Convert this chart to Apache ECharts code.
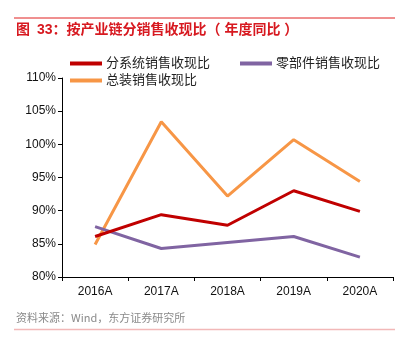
<!DOCTYPE html>
<html>
<head>
<meta charset="utf-8">
<script src="https://cdn.jsdelivr.net/npm/echarts@6/dist/echarts.min.js"></script>
<style>
  html, body { margin: 0; padding: 0; background: #fff; }
  #chart { width: 410px; height: 341px; }
</style>
</head>
<body>
<div id="chart"></div>
<script>
// Yearly cash-collection ratio by segment, in percent
const categories = ['2016A', '2017A', '2018A', '2019A', '2020A'];
const subsystemRatio = [86.1, 89.4, 87.8, 93.0, 89.9];
const componentRatio = [87.6, 84.3, 85.2, 86.1, 83.0];
const assemblyRatio = [84.9, 103.4, 92.2, 100.7, 94.4];
const yTicks = { min: 80, max: 110, interval: 5 };

const seriesNames = ['分系统销售收现比', '零部件销售收现比', '总装销售收现比'];
const colors = ['#C00000', '#8064A2', '#F79646'];

const FONT = '"Liberation Sans", "Noto Sans CJK SC", sans-serif';
const TITLE_FONT = 'bold 14px "Liberation Sans", "Noto Sans CJK SC", sans-serif';

const chart = echarts.init(document.getElementById('chart'), null, { renderer: 'canvas' });

const legendBase = {
  orient: 'horizontal',
  left: 70,
  itemWidth: 32,
  itemHeight: 4,
  itemGap: 30,
  icon: 'rect',
  textStyle: { fontFamily: FONT, fontSize: 13, color: '#222', padding: [0, 0, 0, -1] },
  padding: 0
};

chart.setOption({
  animation: false,
  color: colors,
  textStyle: { fontFamily: FONT },
  grid: { left: 62, right: 17, top: 78, bottom: 64 },
  legend: [
    Object.assign({}, legendBase, { top: 57, data: [seriesNames[0], seriesNames[1]] }),
    Object.assign({}, legendBase, { top: 74, data: [seriesNames[2]] })
  ],
  xAxis: {
    type: 'category',
    data: categories,
    boundaryGap: true,
    axisLine: { lineStyle: { color: '#000', width: 1 } },
    axisTick: { show: true, length: 4, lineStyle: { color: '#000' } },
    axisLabel: { color: '#111', fontSize: 12, margin: 9, fontFamily: FONT },
    splitLine: { show: false }
  },
  yAxis: {
    type: 'value',
    min: yTicks.min,
    max: yTicks.max,
    interval: yTicks.interval,
    axisLine: { show: true, lineStyle: { color: '#000', width: 1 } },
    axisTick: { show: true, length: 4, lineStyle: { color: '#000' } },
    axisLabel: { color: '#111', fontSize: 12, margin: 6, fontFamily: FONT, formatter: '{value}%' },
    splitLine: { show: false }
  },
  series: [
    { name: seriesNames[0], type: 'line', data: subsystemRatio, symbol: 'none', lineStyle: { width: 3, color: colors[0] }, z: 3 },
    { name: seriesNames[1], type: 'line', data: componentRatio, symbol: 'none', lineStyle: { width: 3, color: colors[1] }, z: 2 },
    { name: seriesNames[2], type: 'line', data: assemblyRatio, symbol: 'none', lineStyle: { width: 3, color: colors[2] }, z: 1 }
  ],
  graphic: [
    { type: 'line', shape: { x1: 14, y1: 18, x2: 395, y2: 18 }, style: { stroke: '#E02020', lineWidth: 1 } },
    { type: 'text', left: 16, top: 23, style: { text: '图', fill: '#D71920', font: TITLE_FONT } },
    { type: 'text', left: 37, top: 23, style: { text: '33：按产业链分销售收现比（ 年度同比 ）', fill: '#D71920', font: TITLE_FONT } },
    { type: 'text', left: 16, top: 312, style: { text: '资料来源：Wind，东方证券研究所', fill: '#8a8a8a', font: '11px "Noto Sans CJK SC", sans-serif' } },
    { type: 'line', shape: { x1: 14, y1: 329.5, x2: 395, y2: 329.5 }, style: { stroke: '#F2B8B8', lineWidth: 1.5 } }
  ]
});
</script>
</body>
</html>
